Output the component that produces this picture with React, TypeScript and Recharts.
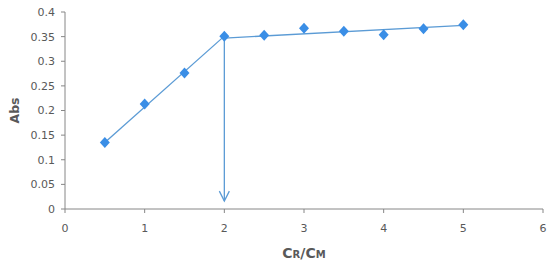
import React from 'react';
import { ComposedChart, Scatter, XAxis, YAxis } from 'recharts';

// measured points
const ratioValues = [0.5, 1, 1.5, 2, 2.5, 3, 3.5, 4, 4.5, 5];
const absValues = [0.135, 0.213, 0.276, 0.351, 0.353, 0.367, 0.361, 0.354, 0.366, 0.374];

// fitted lines (end points)
const riseX = [0.5, 2];
const riseY = [0.135, 0.351];
const plateauX = [2, 5];
const plateauY = [0.347, 0.373];

// arrow down to the axis at the break point
const arrowX = [2, 2];
const arrowY = [0.351, 0.016];

const xTicks = [0, 1, 2, 3, 4, 5, 6];
const yTicks = [0, 0.05, 0.1, 0.15, 0.2, 0.25, 0.3, 0.35, 0.4];

const points = ratioValues.map((x, i) => ({ x, y: absValues[i] }));
const rise = riseX.map((x, i) => ({ x, y: riseY[i] }));
const plateau = plateauX.map((x, i) => ({ x, y: plateauY[i] }));
const arrow = arrowX.map((x, i) => ({ x, y: arrowY[i], head: i === arrowX.length - 1 }));

const lineColor = '#5b9bd5';
const markerColor = '#3a8ee6';
const axisColor = '#868686';
const textColor = '#595959';

const Diamond = (props: any) => {
  const { cx, cy } = props;
  if (cx == null || cy == null) return <g />;
  return (
    <polygon
      points={`${cx},${cy - 5.5} ${cx + 5},${cy} ${cx},${cy + 5.5} ${cx - 5},${cy}`}
      fill={markerColor}
    />
  );
};

const NoDot = () => <g />;

const ArrowHead = (props: any) => {
  const { cx, cy, payload } = props;
  if (!payload || !payload.head) return <g />;
  return (
    <path
      d={`M${cx - 5},${cy - 10} L${cx},${cy} L${cx + 5},${cy - 10}`}
      fill="none"
      stroke={lineColor}
      strokeWidth={1.3}
    />
  );
};

const XLabel = (props: any) => {
  const { viewBox } = props;
  const cx = viewBox.x + viewBox.width / 2;
  return (
    <text x={cx} y={258} textAnchor="middle" fill={textColor} fontWeight="bold" fontFamily="DejaVu Sans">
      <tspan fontSize={14}>C</tspan>
      <tspan fontSize={10}>R</tspan>
      <tspan fontSize={14}>/C</tspan>
      <tspan fontSize={10}>M</tspan>
    </text>
  );
};

const App = () => {
  return (
    <div style={{ width: 550, height: 268, background: '#fff' }}>
      <style>{'body{margin:0}'}</style>
      <ComposedChart
        width={550}
        height={268}
        margin={{ top: 12, right: 7, left: 0, bottom: 0 }}
        style={{ fontFamily: 'DejaVu Sans' }}
      >
        <XAxis
          type="number"
          dataKey="x"
          domain={[0, 6]}
          ticks={xTicks}
          height={59}
          stroke={axisColor}
          tickSize={4}
          tickMargin={11}
          tick={{ fontSize: 11, fill: textColor }}
          label={<XLabel />}
        />
        <YAxis
          type="number"
          dataKey="y"
          domain={[0, 0.4]}
          ticks={yTicks}
          width={65}
          stroke={axisColor}
          tickSize={4}
          tickMargin={6}
          tick={{ fontSize: 11, fill: textColor }}
          label={{
            value: 'Abs',
            angle: -90,
            position: 'insideLeft',
            offset: 15,
            style: { fontSize: 12.5, fontWeight: 'bold', fill: textColor, textAnchor: 'middle' },
          }}
        />
        <Scatter data={rise} line={{ stroke: lineColor, strokeWidth: 1.3 }} shape={NoDot} isAnimationActive={false} />
        <Scatter data={plateau} line={{ stroke: lineColor, strokeWidth: 1.3 }} shape={NoDot} isAnimationActive={false} />
        <Scatter data={arrow} line={{ stroke: lineColor, strokeWidth: 1.3 }} shape={ArrowHead} isAnimationActive={false} />
        <Scatter data={points} shape={Diamond} isAnimationActive={false} />
      </ComposedChart>
    </div>
  );
};

export default App;
